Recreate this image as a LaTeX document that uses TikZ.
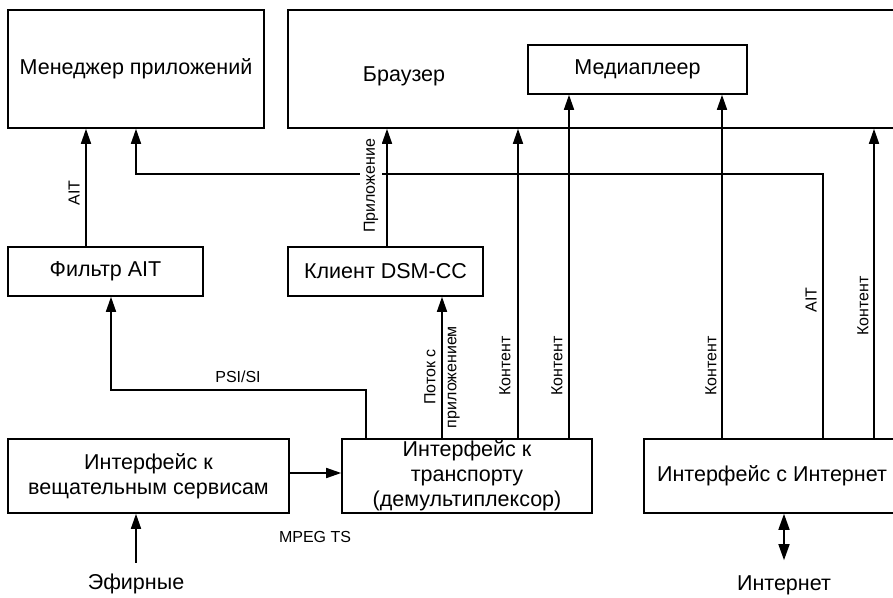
\documentclass[tikz,border=0pt]{standalone}
\usepackage{fontspec}
\setmainfont{Liberation Sans}
\usetikzlibrary{arrows.meta}

\tikzset{
  caja/.style={draw, line width=1.6pt, inner sep=0pt, align=center, font=\fontsize{21.5}{25}\selectfont},
  flecha/.style={line width=1.6pt, -{Triangle[length=15pt,width=10pt]}},
  dflecha/.style={line width=1.6pt, {Triangle[length=16pt,width=11pt]}-{Triangle[length=16pt,width=11pt]}},
  etiq/.style={font=\fontsize{16}{21}\selectfont, inner sep=2pt, align=center},
  etiqv/.style={etiq, rotate=90},
  texto/.style={font=\fontsize{21.5}{25}\selectfont, inner sep=2pt}
}

\begin{document}
\begin{tikzpicture}[x=1pt,y=-1pt]
\clip (0,0) rectangle (893,597);
% bloques de arriba
\node[caja, minimum width=256pt, minimum height=118pt] (mgr) at (136,69) {Менеджер приложений};
\node[caja, minimum width=612pt, minimum height=118pt] (brw) at (594,69) {};
\node[texto] (brwtxt) at (404,76) {Браузер};
\node[caja, minimum width=219pt, minimum height=49pt] (mp) at (637.5,69.5) {Медиаплеер};
% bloques del medio
\node[caja, minimum width=195pt, minimum height=49pt] (flt) at (105.5,271.5) {Фильтр AIT};
\node[caja, minimum width=195pt, minimum height=49pt] (dsm) at (385.5,271.5) {Клиент DSM-CC};
% bloques de abajo
\node[caja, minimum width=281pt, minimum height=74pt] (bcast) at (148.5,476) {Интерфейс к\\вещательным сервисам};
\node[caja, minimum width=250pt, minimum height=74pt] (demux) at (467,476) {Интерфейс к\\транспорту\\(демультиплексор)};
\node[caja, minimum width=256pt, minimum height=74pt] (inet) at (772,476) {Интерфейс с Интернет};
\node[texto] (efir) at (136,584) {Эфирные};
\node[texto] (www) at (784,585) {Интернет};

% puntos de salida de las flechas
\coordinate (f1) at ([xshift=-19.5pt]flt.north);
\coordinate (f2) at ([xshift=5.5pt]flt.south);
\coordinate (d1) at ([xshift=1.5pt]dsm.north);
\coordinate (d2) at ([xshift=-101pt]demux.north);
\coordinate (d3) at ([xshift=-25pt]demux.north);
\coordinate (d4) at ([xshift=51pt]demux.north);
\coordinate (d5) at ([xshift=102pt]demux.north);
\coordinate (i1) at ([xshift=51pt]inet.north);
\coordinate (i2) at ([xshift=-50pt]inet.north);
\coordinate (i3) at ([xshift=102pt]inet.north);
\coordinate (b1) at ([yshift=3pt]bcast.east);

% flechas
\draw[flecha] (f1) -- (f1 |- mgr.south);
\draw[flecha] (i1) |- ([yshift=-45pt]mgr.south) -- (mgr.south);
\draw[flecha] (d1) -- (d1 |- brw.south);
\draw[flecha] (d2) |- ([yshift=-93pt]f2) -- (f2);
\draw[flecha] (d3) -- (d3 |- dsm.south);
\draw[flecha] (d4) -- (d4 |- brw.south);
\draw[flecha] (d5) -- (d5 |- mp.south);
\draw[flecha] (i2) -- (i2 |- mp.south);
\draw[flecha] (i3) -- (i3 |- brw.south);
\draw[flecha] (b1) -- (b1 -| demux.west);
\draw[flecha] ([yshift=9pt]efir.north) -- (efir.north |- bcast.south);
\draw[dflecha] ([yshift=13pt]www.north) -- (www.north |- inet.south);

% etiquetas
\node[etiqv] (lait1) at (74,193) {AIT};
\node[etiqv, fill=white, inner sep=4pt] (lapp) at (371,186) {Приложение};
\node[etiq] (lpsi) at (238,377) {PSI/SI};
\node[etiqv] (lflujo) at (442,377) {Поток с\\приложением};
\node[etiqv] (lc1) at (505,366) {Контент};
\node[etiqv] (lc2) at (557,366) {Контент};
\node[etiqv] (lc3) at (711,366) {Контент};
\node[etiqv] (lait2) at (811,300) {AIT};
\node[etiqv] (lc4) at (863,306) {Контент};
\node[etiq] (lmpeg) at (315,537) {MPEG TS};
\end{tikzpicture}
\end{document}
